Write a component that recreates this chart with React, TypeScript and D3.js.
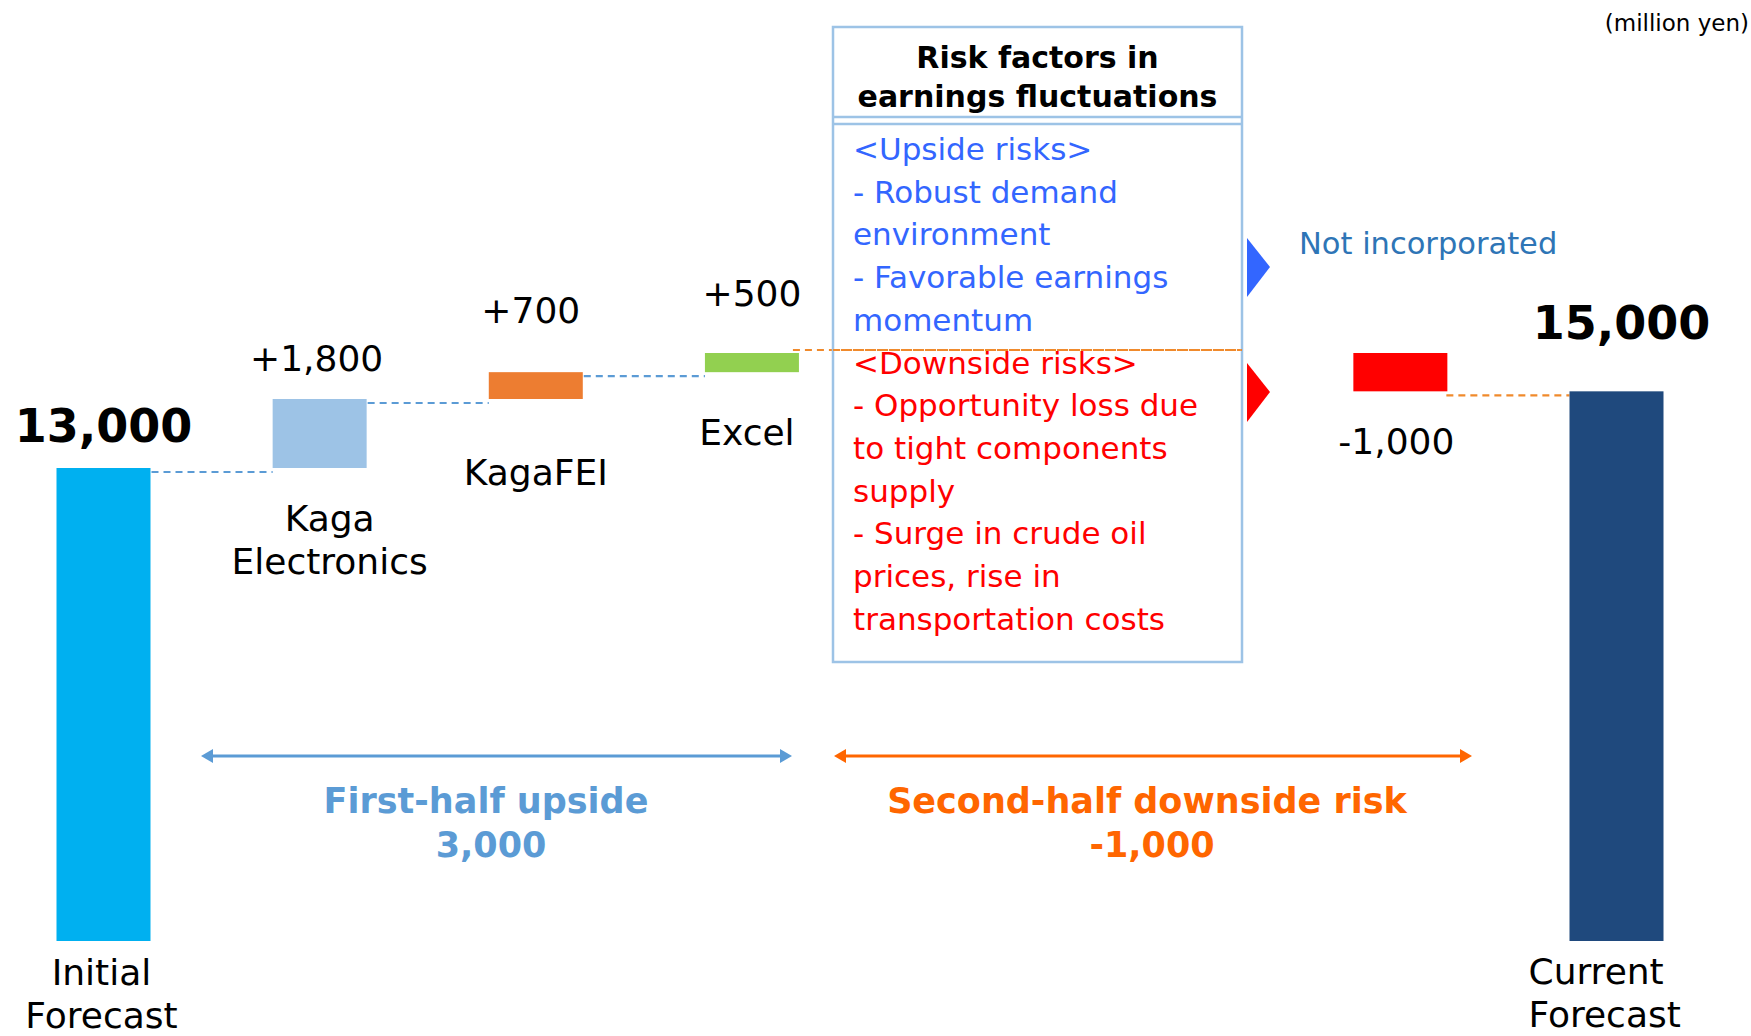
import React from 'react';
import * as d3 from 'd3';

// waterfall steps (million yen)
const steps = ['Initial Forecast', 'Kaga Electronics', 'KagaFEI', 'Excel', 'Downside risk', 'Current Forecast'];
const stepKinds = ['total', 'delta', 'delta', 'delta', 'delta', 'total'];
const stepValues = [13000, 1800, 700, 500, -1000, 15000];
const valueLabels = ['13,000', '+1,800', '+700', '+500', '-1,000', '15,000'];
const stepColors = ['#00B0F0', '#9DC3E6', '#ED7D31', '#92D050', '#FF0000', '#1F497D'];
// slots on the x axis, two empty ones hold the risk box
const slots = ['Initial Forecast', 'Kaga Electronics', 'KagaFEI', 'Excel', 'gap1', 'gap2', 'Downside risk', 'Current Forecast'];

const upsideLines = ['<Upside risks>', '- Robust demand', 'environment', '- Favorable earnings', 'momentum'];
const downsideLines = ['<Downside risks>', '- Opportunity loss due', 'to tight components', 'supply', '- Surge in crude oil', 'prices, rise in', 'transportation costs'];

const FONT = '"DejaVu Sans", Verdana, sans-serif';

export default function App() {
  const width = 1751;
  const height = 1036;
  const plotBottom = 941;
  const barW = 94;

  const x = d3.scalePoint<string>().domain(slots).range([103.5, 1616.5]);
  const y = d3.scaleLinear().domain([13000, 16000]).range([468, 353]);

  // running totals
  let level = 0;
  const bars = steps.map((s, i) => {
    let y0: number, y1: number;
    if (stepKinds[i] === 'total') {
      level = stepValues[i];
      y0 = y(level);
      y1 = plotBottom;
    } else {
      const from = level;
      level = level + stepValues[i];
      y0 = y(Math.max(from, level));
      y1 = y(Math.min(from, level));
    }
    return { name: s, cx: x(s) as number, y0, y1, level, color: stepColors[i], label: valueLabels[i], kind: stepKinds[i] };
  });

  // label placement per step
  const valueDy: Record<string, number> = {
    'Initial Forecast': -26, 'Kaga Electronics': -28, 'KagaFEI': -49, 'Excel': -47, 'Downside risk': 63, 'Current Forecast': -52,
  };
  const valueDx: Record<string, number> = {
    'Initial Forecast': 0, 'Kaga Electronics': -3, 'KagaFEI': -5, 'Excel': 0, 'Downside risk': -4, 'Current Forecast': 5,
  };
  const catLines: Record<string, string[]> = {
    'Initial Forecast': ['Initial', 'Forecast'],
    'Kaga Electronics': ['Kaga', 'Electronics'],
    'KagaFEI': ['KagaFEI'],
    'Excel': ['Excel'],
    'Current Forecast': ['Current', 'Forecast'],
  };
  const catPos: Record<string, { dx: number; base: number; anchor: string }> = {
    'Initial Forecast': { dx: -2, base: 985, anchor: 'middle' },
    'Kaga Electronics': { dx: 10, base: 531, anchor: 'middle' },
    'KagaFEI': { dx: 0, base: 485, anchor: 'middle' },
    'Excel': { dx: -5, base: 445, anchor: 'middle' },
    'Current Forecast': { dx: -88, base: 984, anchor: 'start' },
  };

  // connectors between bars
  const connectors = bars.slice(0, -1).map((b, i) => {
    const n = bars[i + 1];
    return { x1: b.cx + barW / 2 + 1, x2: n.cx - barW / 2, y: y(b.level) + 4 };
  });
  const blueConn = connectors.slice(0, 3);
  const exc = bars[3];
  const red = bars[4];

  const boxL = 833, boxR = 1242, boxT = 27, boxB = 662;
  const lineStep = 42.7;

  const arrow = (x1: number, x2: number, yy: number, color: string) => (
    <g>
      <line x1={x1 + 8} x2={x2 - 8} y1={yy} y2={yy} stroke={color} strokeWidth={3} />
      <polygon points={`${x1},${yy} ${x1 + 12},${yy - 7} ${x1 + 12},${yy + 7}`} fill={color} />
      <polygon points={`${x2},${yy} ${x2 - 12},${yy - 7} ${x2 - 12},${yy + 7}`} fill={color} />
    </g>
  );

  return (
    <svg width={width} height={height} style={{ position: 'absolute', left: 0, top: 0, background: '#fff' }} fontFamily={FONT}>
      <style>{'body{margin:0;overflow:hidden}'}</style>
      <rect x={0} y={0} width={width} height={height} fill="#fff" />

      {/* dashed connectors */}
      {blueConn.map((c, i) => (
        <line key={i} x1={c.x1} x2={c.x2} y1={c.y} y2={c.y} stroke="#5B9BD5" strokeWidth={2.2} strokeDasharray="7,5" />
      ))}
      <line x1={exc.cx + barW / 2 - 6} x2={boxR} y1={y(exc.level) - 3} y2={y(exc.level) - 3} stroke="#F08A2C" strokeWidth={2.2} strokeDasharray="7,5" />
      <line x1={red.cx + barW / 2 - 1} x2={bars[5].cx - barW / 2} y1={y(red.level) + 4} y2={y(red.level) + 4} stroke="#F08A2C" strokeWidth={2.2} strokeDasharray="7,5" />

      {/* bars */}
      {bars.map((b) => (
        <rect key={b.name} x={b.cx - barW / 2} y={b.y0} width={barW} height={b.y1 - b.y0} fill={b.color} />
      ))}

      {/* value labels */}
      {bars.map((b) => (
        <text
          key={'v' + b.name}
          x={b.cx + valueDx[b.name]}
          y={(b.name === 'Downside risk' ? b.y1 : b.y0) + valueDy[b.name]}
          textAnchor="middle"
          fontSize={b.kind === 'total' ? 46 : 36}
          fontWeight={b.kind === 'total' ? 'bold' : 'normal'}
          fill="#000"
        >
          {b.label}
        </text>
      ))}

      {/* category labels */}
      {bars.filter((b) => catLines[b.name]).map((b) => {
        const p = catPos[b.name];
        return (
          <text key={'c' + b.name} x={b.cx + p.dx} y={p.base} textAnchor={p.anchor as any} fontSize={36} fill="#000">
            {catLines[b.name].map((t, j) => (
              <tspan key={j} x={b.cx + p.dx} y={p.base + j * 43}>{t}</tspan>
            ))}
          </text>
        );
      })}

      {/* risk box */}
      <rect x={boxL} y={boxT} width={boxR - boxL} height={boxB - boxT} fill="none" stroke="#9DC3E6" strokeWidth={2.5} />
      <line x1={boxL} x2={boxR} y1={117} y2={117} stroke="#9DC3E6" strokeWidth={2.5} />
      <line x1={boxL} x2={boxR} y1={124} y2={124} stroke="#9DC3E6" strokeWidth={2.5} />
      <text x={(boxL + boxR) / 2} y={68} textAnchor="middle" fontSize={30} fontWeight="bold" fill="#000">
        Risk factors in
      </text>
      <text x={(boxL + boxR) / 2} y={107} textAnchor="middle" fontSize={30} fontWeight="bold" fill="#000">
        earnings fluctuations
      </text>
      {upsideLines.concat(downsideLines).map((t, i) => (
        <text key={'r' + i} x={853} y={160 + i * lineStep} fontSize={31} fill={i < upsideLines.length ? '#3366FF' : '#FF0000'}>
          {t}
        </text>
      ))}
      {/* orange dash runs over the box text */}
      <line x1={boxL} x2={boxR} y1={y(exc.level) - 3} y2={y(exc.level) - 3} stroke="#F08A2C" strokeWidth={2.2} strokeDasharray="7,5" />

      {/* side markers */}
      <polygon points="1247,238 1270,267 1247,297" fill="#3366FF" />
      <polygon points="1247,363 1270,392 1247,422" fill="#FF0000" />
      <text x={1299} y={254} fontSize={30.5} fill="#2E75B6">Not incorporated</text>

      {/* period arrows */}
      {arrow(201, 792, 756, '#5B9BD5')}
      {arrow(834, 1472, 756, '#FF6600')}
      <text x={486} y={813} textAnchor="middle" fontSize={35} fontWeight="bold" fill="#5B9BD5">First-half upside</text>
      <text x={491} y={857} textAnchor="middle" fontSize={35} fontWeight="bold" fill="#5B9BD5">3,000</text>
      <text x={1147} y={813} textAnchor="middle" fontSize={35} fontWeight="bold" fill="#FF6600">Second-half downside risk</text>
      <text x={1152} y={857} textAnchor="middle" fontSize={35} fontWeight="bold" fill="#FF6600">-1,000</text>

      <text x={1749} y={31} textAnchor="end" fontSize={23} fill="#000">(million yen)</text>
    </svg>
  );
}
